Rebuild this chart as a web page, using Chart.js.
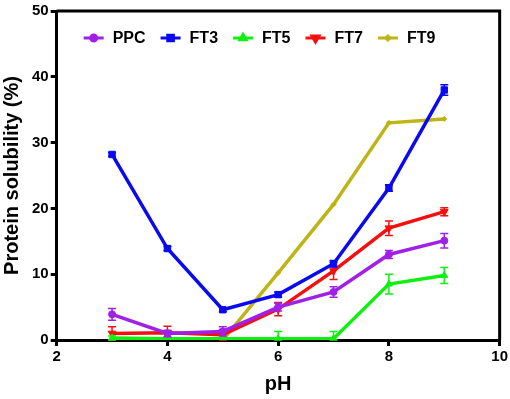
<!DOCTYPE html>
<html>
<head>
<meta charset="utf-8">
<script src="https://cdn.jsdelivr.net/npm/chart.js@4"></script>
<style>
  html, body { margin: 0; padding: 0; background: #fff; }
  #wrap { width: 510px; height: 399px; }
</style>
</head>
<body>
<div id="wrap"><canvas id="c"></canvas></div>
<script>
const phValues = [3, 4, 5, 6, 7, 8, 9];
const seriesNames = ['PPC', 'FT3', 'FT5', 'FT7', 'FT9'];

const ppc = [3.9, 1.0, 1.3, 5.0, 7.3, 13.0, 15.1];
const ft3 = [28.2, 13.9, 4.6, 6.9, 11.6, 23.1, 38.0];
const ft5 = [0.3, 0.2, 0.2, 0.2, 0.2, 8.5, 9.8];
const ft7 = [1.0, 1.1, 0.8, 4.7, 10.5, 17.0, 19.5];
const ft9 = [0, 0, 0, 10.2, 20.6, 33.0, 33.6];

const ppcErr = [0.9, 0.5, 0.7, 0.6, 0.8, 0.6, 1.1];
const ft3Err = [0.3, 0.3, 0.3, 0.4, 0.5, 0.5, 0.8];
const ft5Err = [0.3, 0, 0, 1.1, 1.1, 1.5, 1.2];
const ft7Err = [1.0, 1.0, 0.8, 1.0, 1.3, 1.1, 0.6];
const ft9Err = [0, 0, 0, 0, 0, 0, 0];

const yTicks = [0, 10, 20, 30, 40, 50];
const xTicks = [2, 4, 6, 8, 10];

const colors = ['#A020E8', '#0A0AF0', '#10F010', '#F51010', '#BDB415'];
const markers = ['circle', 'rect', 'triangle', 'triangle', 'rectRot'];
const markerSize = [3.5, 4.5, 4, 4.5, 2.5];
const rotations = [0, 0, 0, 180, 0];

const allVals = [ppc, ft3, ft5, ft7, ft9];
const allErr = [ppcErr, ft3Err, ft5Err, ft7Err, ft9Err];

const datasets = seriesNames.map((name, i) => ({
  label: name,
  data: phValues.map((x, k) => ({x: x, y: allVals[i][k]})),
  errors: allErr[i],
  borderColor: colors[i],
  backgroundColor: colors[i],
  pointBackgroundColor: colors[i],
  pointBorderColor: colors[i],
  borderWidth: 3.5,
  pointBorderWidth: 1,
  pointStyle: markers[i],
  pointRadius: markerSize[i],
  pointRotation: rotations[i],
  tension: 0,
  fill: false
}));

const errorBars = {
  id: 'errorBars',
  beforeDatasetDraw(chart, args) {
    const ds = chart.data.datasets[args.index];
    const meta = args.meta;
    const yScale = chart.scales.y;
    const ctx = chart.ctx;
    ctx.save();
    ctx.strokeStyle = ds.borderColor;
    ctx.lineWidth = 1.5;
    meta.data.forEach((pt, k) => {
      const e = ds.errors[k];
      if (!e) return;
      const v = ds.data[k].y;
      const top = yScale.getPixelForValue(v + e);
      const bot = yScale.getPixelForValue(Math.max(0, v - e));
      ctx.beginPath();
      ctx.moveTo(pt.x, top); ctx.lineTo(pt.x, bot);
      ctx.moveTo(pt.x - 4, top); ctx.lineTo(pt.x + 4, top);
      ctx.moveTo(pt.x - 4, bot); ctx.lineTo(pt.x + 4, bot);
      ctx.stroke();
    });
    ctx.restore();
  }
};

const tickFont = {family: '"Liberation Sans", Arial, sans-serif', size: 15, weight: 'bold'};
const titleFont = {family: '"Liberation Sans", Arial, sans-serif', size: 20, weight: 'bold'};

// frame on top/right plus a single-row legend inside the plot
const frameAndLegend = {
  id: 'frameAndLegend',
  afterDraw(chart) {
    const a = chart.chartArea;
    const ctx = chart.ctx;
    ctx.save();
    ctx.strokeStyle = '#000';
    ctx.lineWidth = 3;
    ctx.beginPath();
    ctx.moveTo(a.left, a.top); ctx.lineTo(a.right, a.top); ctx.lineTo(a.right, a.bottom);
    ctx.stroke();

    ctx.font = 'bold 16px "Liberation Sans", Arial, sans-serif';
    ctx.textBaseline = 'middle';
    let x = a.left + 27;
    const y = a.top + 27;
    seriesNames.forEach((n, i) => {
      ctx.strokeStyle = colors[i];
      ctx.fillStyle = colors[i];
      ctx.lineWidth = 3;
      ctx.beginPath(); ctx.moveTo(x, y); ctx.lineTo(x + 20, y); ctx.stroke();
      Chart.helpers.drawPoint(ctx, {pointStyle: markers[i], radius: markerSize[i] - 0.5, rotation: rotations[i], borderWidth: 1}, x + 10, y);
      ctx.fillStyle = '#000';
      ctx.fillText(n, x + 29, y + 1);
      x += 29 + ctx.measureText(n).width + 15;
    });
    ctx.restore();
  }
};

new Chart(document.getElementById('c'), {
  type: 'line',
  data: {datasets: datasets},
  options: {
    responsive: true,
    maintainAspectRatio: false,
    animation: false,
    layout: {padding: {top: 6, right: 9, left: 0, bottom: 3}},
    plugins: {
      tooltip: {enabled: false},
      legend: {display: false}
    },
    scales: {
      x: {
        type: 'linear',
        min: 2, max: 10,
        afterBuildTicks(s) { s.ticks = xTicks.map(v => ({value: v})); },
        grid: {drawOnChartArea: false, color: '#000', tickLength: 6, lineWidth: 3, tickWidth: 3},
        border: {color: '#000', width: 3},
        ticks: {color: '#000', font: tickFont, padding: 2},
        title: {display: true, text: 'pH', color: '#000', font: titleFont, padding: {top: 4, bottom: 0}}
      },
      y: {
        min: 0, max: 50,
        afterBuildTicks(s) { s.ticks = yTicks.map(v => ({value: v})); },
        grid: {drawOnChartArea: false, color: '#000', tickLength: 6, lineWidth: 3, tickWidth: 3},
        border: {color: '#000', width: 3},
        ticks: {color: '#000', font: tickFont, padding: 2},
        title: {display: true, text: 'Protein solubility (%)', color: '#000', font: titleFont, padding: {top: 0, bottom: 6}}
      }
    }
  },
  plugins: [errorBars, frameAndLegend]
});
</script>
</body>
</html>
